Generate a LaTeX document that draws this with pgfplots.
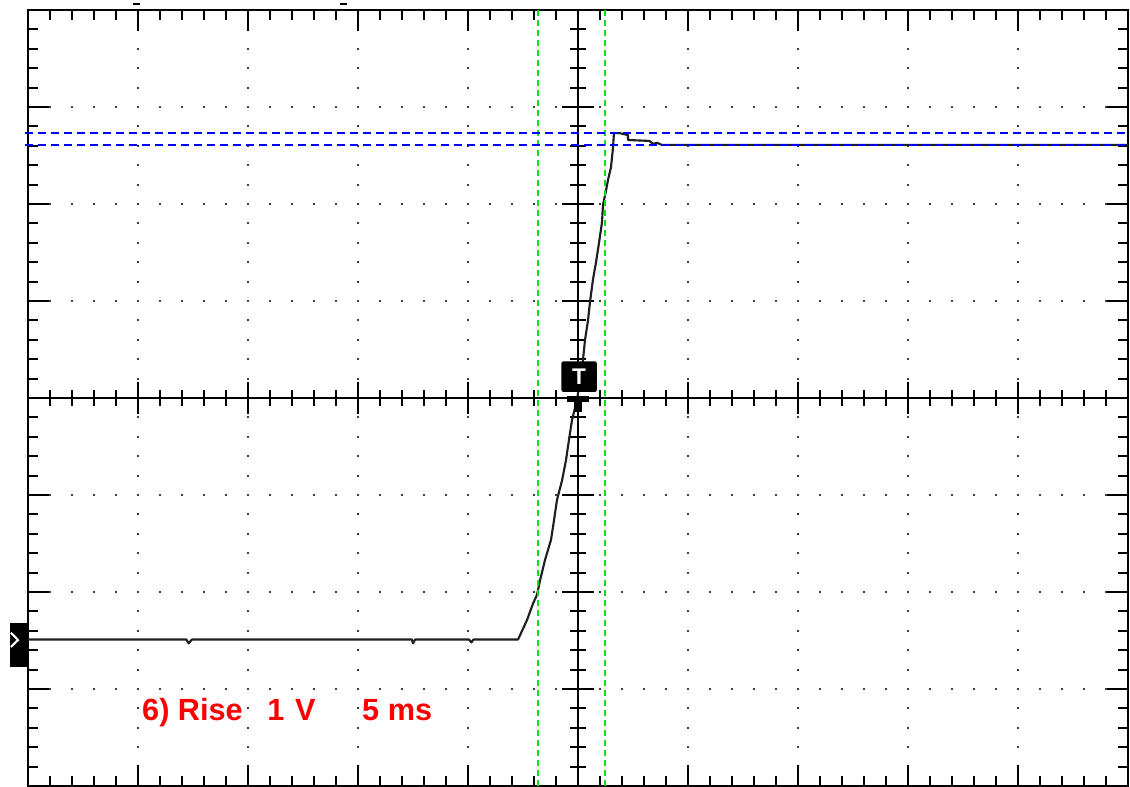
\documentclass[border=0pt]{standalone}
\usepackage{pgfplots}
\pgfplotsset{compat=1.18}
\usepackage{fontspec}
\setmainfont{Liberation Sans}
\definecolor{trace}{RGB}{30,30,30}
\definecolor{cgreen}{RGB}{0,230,0}
\definecolor{cblue}{RGB}{0,0,255}
\definecolor{cred}{RGB}{255,0,0}
\definecolor{griddot}{RGB}{60,60,60}
\pgfplotsset{scopebase/.style={
  scale only axis, width=825pt, height=582pt,
  xmin=-5, xmax=5, ymin=-4, ymax=4,
  at={(21pt,0.75pt)}, anchor=south west,
  xticklabels={}, yticklabels={}, clip=false,
}}
\begin{document}
\begin{tikzpicture}
\useasboundingbox (0,0) rectangle (847.5pt,590.25pt);
\begin{axis}[scopebase,
  axis line style={line width=1.9pt, black},
  xtick={-5,...,5}, ytick={-4,...,4},
  minor x tick num=4, minor y tick num=4,
  tick pos=both, tick align=inside,
  major tick length=15.5pt, minor tick length=7.5pt,
  every tick/.append style={black, line width=1.5pt},
  grid=major,
  x grid style={griddot, line width=1.4pt, dash pattern=on 1.4pt off 13.15pt, dash phase=0.7pt},
  y grid style={griddot, line width=1.4pt, dash pattern=on 1.4pt off 15.1pt, dash phase=0.7pt},
]
\end{axis}
\begin{axis}[scopebase,
  axis lines=middle,
  axis line style={-, line width=1.9pt, black},
  xtick={-4,...,4}, ytick={-3,...,3},
  minor xtick={-4.8,-4.6,...,4.8}, minor ytick={-3.8,-3.6,...,3.8},
  tick align=center, major tick length=24pt, minor tick length=12pt,
  every tick/.append style={black, line width=1.5pt},
]
\addplot[trace, line width=1.6pt, line join=round] coordinates {
(-5,-2.49) (-3.56,-2.49) (-3.54,-2.53) (-3.51,-2.49) (-1.51,-2.49) (-1.50,-2.53) (-1.48,-2.49)
(-0.99,-2.49) (-0.97,-2.52) (-0.95,-2.49) (-0.545,-2.49)
(-0.464,-2.29) (-0.409,-2.12) (-0.373,-2.03) (-0.345,-1.88) (-0.300,-1.67) (-0.245,-1.46)
(-0.218,-1.26) (-0.191,-1.05) (-0.145,-0.85) (-0.109,-0.64) (-0.082,-0.43) (-0.055,-0.23)
(-0.009,-0.02) (0.018,0.19) (0.045,0.39) (0.064,0.60) (0.091,0.80) (0.109,0.99) (0.136,1.22)
(0.164,1.40) (0.191,1.60) (0.218,1.81) (0.227,1.99) (0.255,2.14) (0.273,2.25) (0.300,2.38)
(0.318,2.58) (0.327,2.73) (0.38,2.73) (0.455,2.71) (0.455,2.66) (0.65,2.65) (0.68,2.62)
(0.72,2.63) (0.76,2.61) (1.0,2.61) (5,2.61)
};
\addplot[cgreen, line width=1.3pt, dash pattern=on 4.5pt off 3pt] coordinates {(-0.364,-4) (-0.364,4)};
\addplot[cgreen, line width=1.3pt, dash pattern=on 4.5pt off 3pt] coordinates {(0.245,-4) (0.245,4)};
\addplot[cblue, line width=1.5pt, dash pattern=on 6pt off 3.75pt] coordinates {(-5.03,2.73) (5.02,2.73)};
\addplot[cblue, line width=1.5pt, dash pattern=on 6pt off 3.75pt] coordinates {(-5.03,2.61) (5.02,2.61)};
\fill[black] (axis cs:-0.10,0.02) rectangle (axis cs:0.10,-0.04);
\fill[black] (axis cs:-0.032,0.0) rectangle (axis cs:0.032,-0.144);
\node[fill=black, text=white, font=\bfseries\fontsize{17}{17}\selectfont, minimum width=26.5pt, minimum height=23pt, inner sep=0pt, rounded corners=1.5pt] at (axis cs:0.01,0.22) {T};
\fill[black] (axis cs:-5.164,-2.32) rectangle (axis cs:-5.0,-2.77);
\draw[white, line width=1.6pt] (axis cs:-5.155,-2.42) -- (axis cs:-5.091,-2.495) -- (axis cs:-5.155,-2.567);
\draw[black, line width=1.5pt] (axis cs:-4.045,4.062) -- (axis cs:-3.98,4.062);
\draw[black, line width=1.5pt] (axis cs:-2.164,4.062) -- (axis cs:-2.10,4.062);
\node[cred, anchor=base west, inner sep=0pt, font=\bfseries\fontsize{23}{23}\selectfont] at (axis cs:-3.964,-3.32) {6) Rise};
\node[cred, anchor=base west, inner sep=0pt, font=\bfseries\fontsize{23}{23}\selectfont] at (axis cs:-2.827,-3.32) {1};
\node[cred, anchor=base west, inner sep=0pt, font=\bfseries\fontsize{23}{23}\selectfont] at (axis cs:-2.573,-3.32) {V};
\node[cred, anchor=base west, inner sep=0pt, font=\bfseries\fontsize{23}{23}\selectfont] at (axis cs:-1.964,-3.32) {5 ms};
\end{axis}
\end{tikzpicture}
\end{document}
